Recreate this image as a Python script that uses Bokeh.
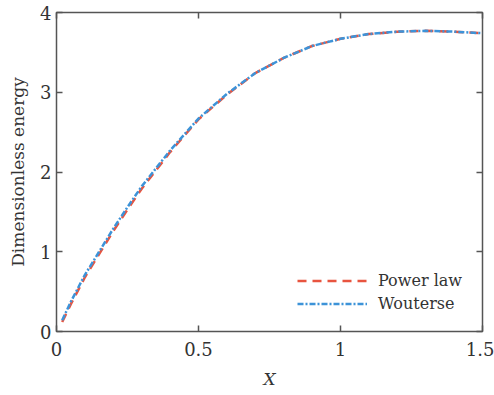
from bokeh.plotting import figure
from bokeh.models import LinearAxis, Range1d, Legend, LegendItem, FixedTicker
from bokeh.embed import file_html
from bokeh.resources import INLINE

x_vals = [0.02, 0.05, 0.1, 0.15, 0.2, 0.25, 0.3, 0.4, 0.5, 0.6, 0.7, 0.8, 0.9, 1.0, 1.1, 1.2, 1.3, 1.4, 1.5]
power_law = [0.12, 0.34, 0.68, 0.97, 1.26, 1.53, 1.79, 2.25, 2.66, 2.97, 3.24, 3.43, 3.58, 3.67, 3.73, 3.76, 3.77, 3.76, 3.74]
wouterse = [0.14, 0.37, 0.71, 1.00, 1.29, 1.56, 1.82, 2.27, 2.67, 2.98, 3.24, 3.43, 3.58, 3.67, 3.73, 3.76, 3.77, 3.76, 3.74]
x_ticks = [0, 0.5, 1, 1.5]
y_ticks = [0, 1, 2, 3, 4]
x_tick_labels = {0: "0", 0.5: "0.5", 1: "1", 1.5: "1.5"}

FONT = "DejaVu Serif"
AX = "#555555"

p = figure(width=494, height=395, output_backend="svg", toolbar_location=None,
           x_range=Range1d(0, 1.5), y_range=Range1d(0, 4),
           min_border_left=56, min_border_right=12, min_border_top=12, min_border_bottom=64)
p.grid.visible = False
p.outline_line_color = AX
p.outline_line_width = 1.5
p.background_fill_color = "white"
p.border_fill_color = "white"

for ax in (p.xaxis[0], p.yaxis[0]):
    ax.axis_line_color = None
    ax.major_tick_in = 6
    ax.major_tick_out = 0
    ax.minor_tick_line_color = None
    ax.major_tick_line_color = AX
    ax.major_tick_line_width = 1.5
    ax.major_label_text_font = FONT
    ax.major_label_text_font_size = "18px"
    ax.major_label_text_color = "#333333"
    ax.axis_label_text_font = FONT
    ax.axis_label_text_color = "#333333"

p.xaxis[0].ticker = FixedTicker(ticks=x_ticks)
p.xaxis[0].major_label_overrides = x_tick_labels
p.yaxis[0].ticker = FixedTicker(ticks=y_ticks)
p.xaxis[0].axis_label = "X"
p.xaxis[0].axis_label_text_font_style = "italic"
p.xaxis[0].axis_label_text_font_size = "17px"
p.xaxis[0].major_label_standoff = 10
p.xaxis[0].axis_label_standoff = 10
p.yaxis[0].axis_label = "Dimensionless energy"
p.yaxis[0].axis_label_text_font_style = "normal"
p.yaxis[0].axis_label_text_font_size = "17px"
p.yaxis[0].major_label_standoff = 5
p.yaxis[0].axis_label_standoff = 9

top = LinearAxis(ticker=FixedTicker(ticks=x_ticks), major_label_overrides={t: "" for t in x_ticks})
right = LinearAxis(ticker=FixedTicker(ticks=y_ticks), major_label_overrides={t: "" for t in y_ticks})
for ax in (top, right):
    ax.axis_line_color = None
    ax.major_tick_in = 6
    ax.major_tick_out = 0
    ax.minor_tick_line_color = None
    ax.major_tick_line_color = AX
    ax.major_tick_line_width = 1.5
    ax.major_label_standoff = 0
p.add_layout(top, "above")
p.add_layout(right, "right")

r1 = p.line(x_vals, power_law, line_color="#E8543F", line_width=2.5, line_dash="9 6")
r2 = p.line(x_vals, wouterse, line_color="#3D93D8", line_width=2.5, line_dash="6 2 2 2")

legend = Legend(items=[LegendItem(label="Power law", renderers=[r1]),
                       LegendItem(label="Wouterse", renderers=[r2])],
                location=(241, 16), background_fill_alpha=0, border_line_color=None,
                label_text_font=FONT, label_text_font_size="16px", label_text_color="#333333",
                glyph_width=70, glyph_height=23, label_height=23, spacing=0,
                label_standoff=11, padding=4, margin=0)
p.add_layout(legend, "center")

open("out.html", "w").write(file_html(p, INLINE))
